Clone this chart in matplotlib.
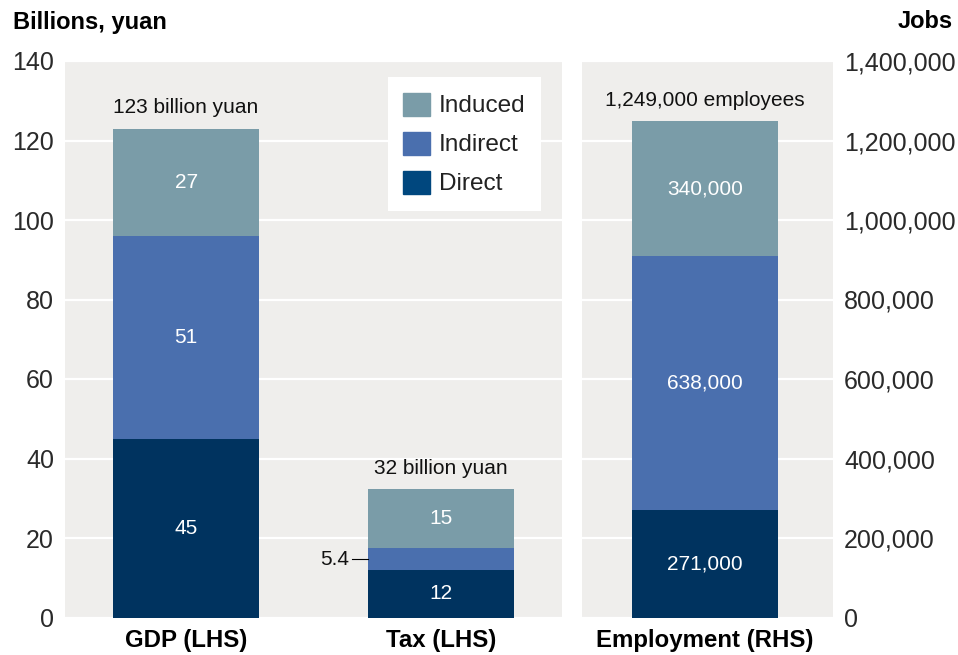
import numpy as np
import matplotlib.pyplot as plt
from matplotlib.patches import Patch
from matplotlib.ticker import FuncFormatter

plt.rcParams["font.family"] = ["Liberation Sans", "DejaVu Sans"]

# Economic impact, billions of yuan (left panel) and jobs (right panel)
components = ["Direct", "Indirect", "Induced"]
lhs_categories = ["GDP (LHS)", "Tax (LHS)"]
lhs_direct = [45, 12]
lhs_indirect = [51, 5.4]
lhs_induced = [27, 15]
lhs_totals = ["123 billion yuan", "32 billion yuan"]

rhs_category = "Employment (RHS)"
rhs_values = [271000, 638000, 340000]
rhs_total = "1,249,000 employees"

colors = {"Direct": "#00335f", "Indirect": "#4a6fae", "Induced": "#7a9ca8"}
legend_colors = {"Direct": "#00477e", "Indirect": "#4a6fae", "Induced": "#7a9ca8"}
panel_bg = "#efeeec"
bar_w = 0.573

fig = plt.figure(figsize=(9.58, 6.55), dpi=100)
ax1 = fig.add_axes([65 / 958, 37.5 / 655, 497 / 958, 556.5 / 655])
ax2 = fig.add_axes([582 / 958, 37.5 / 655, 251 / 958, 556.5 / 655])

for ax in (ax1, ax2):
    ax.set_facecolor(panel_bg)
    for s in ax.spines.values():
        s.set_visible(False)
    ax.set_axisbelow(True)
    ax.grid(axis="y", color="white", linewidth=1.6)
    ax.tick_params(length=0, labelsize=18, labelcolor="#2a2a2a", pad=8)
    ax.tick_params(axis="x", labelsize=17.3, labelcolor="black", pad=8)

# left panel: GDP and tax
x = np.arange(len(lhs_categories))
bottom = np.zeros(len(x))
for name, vals in zip(components, [lhs_direct, lhs_indirect, lhs_induced]):
    vals = np.array(vals, dtype=float)
    ax1.bar(x, vals, bar_w, bottom=bottom, color=colors[name], zorder=2)
    for xi, b, v in zip(x, bottom, vals):
        if v >= 10:
            ax1.text(xi, b + v / 2, f"{v:g}", ha="center", va="center",
                     color="white", fontsize=15, zorder=3)
        else:
            # small segment gets a leader line to the left
            yc = b + v / 2
            ax1.plot([xi - bar_w / 2 - 0.063, xi - bar_w / 2], [yc, yc],
                     color="black", linewidth=0.8, zorder=3)
            ax1.text(xi - bar_w / 2 - 0.075, yc, f"{v:g}", ha="right",
                     va="center", fontsize=15, color="#111111", zorder=3)
    bottom += vals

for xi, top, label in zip(x, bottom, lhs_totals):
    ax1.annotate(label, (xi, top), xytext=(0, 8), textcoords="offset points",
                 ha="center", va="bottom", fontsize=15, color="#111111")

ax1.set_xlim(-0.475, 1.475)
ax1.set_ylim(0, 140)
ax1.set_yticks(np.arange(0, 141, 20))
ax1.set_xticks(x)
ax1.set_xticklabels(lhs_categories, fontweight="bold")

handles = [Patch(color=legend_colors[n], label=n) for n in reversed(components)]
leg = ax1.legend(handles=handles, loc="upper left",
                 bbox_to_anchor=(0.65, 0.971), borderaxespad=0,
                 fontsize=17.6, frameon=True, fancybox=False, framealpha=1,
                 edgecolor="white", handlelength=1.07, handleheight=1.07,
                 handletextpad=0.38, labelspacing=0.58, borderpad=0.63)
leg.get_frame().set_linewidth(0)
for t in leg.get_texts():
    t.set_color("#222222")

# right panel: employment
bottom = 0
for name, v in zip(components, rhs_values):
    ax2.bar(0, v, bar_w, bottom=bottom, color=colors[name], zorder=2)
    ax2.text(0, bottom + v / 2, f"{v:,}", ha="center", va="center",
             color="white", fontsize=15, zorder=3)
    bottom += v
ax2.annotate(rhs_total, (0, bottom), xytext=(0, 8), textcoords="offset points",
             ha="center", va="bottom", fontsize=15, color="#111111")

ax2.set_xlim(-0.482, 0.502)
ax2.set_ylim(0, 1400000)
ax2.set_yticks(np.arange(0, 1400001, 200000))
ax2.yaxis.set_major_formatter(FuncFormatter(lambda v, p: f"{int(v):,}"))
ax2.yaxis.tick_right()
ax2.set_xticks([0])
ax2.set_xticklabels([rhs_category], fontweight="bold")

fig.text(13 / 958, 1 - 22 / 655, "Billions, yuan", fontsize=17,
         fontweight="bold", ha="left", va="center")
fig.text(953 / 958, 1 - 22 / 655, "Jobs", fontsize=17,
         fontweight="bold", ha="right", va="center")

fig.savefig("out.png", dpi=100)
